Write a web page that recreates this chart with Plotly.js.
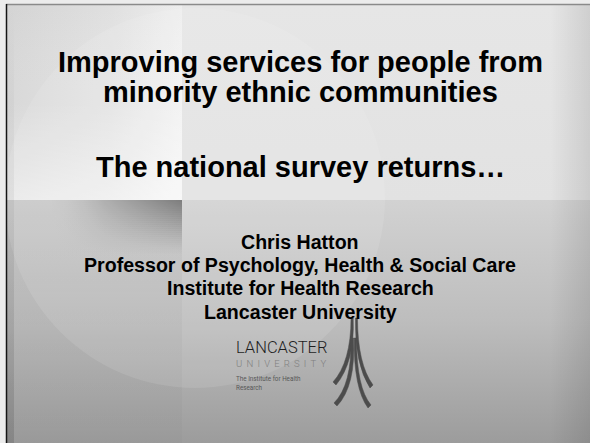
<!DOCTYPE html>
<html>
<head>
<meta charset="utf-8">
<script src="https://cdn.plot.ly/plotly-3.0.1.min.js"></script>
<style>
  html, body { margin: 0; padding: 0; background: #ececec; }
  #slide { width: 590px; height: 443px; }
</style>
</head>
<body>
<div id="slide"></div>
<script>
// ---- Slide content (text) ----
const titleLines = ["Improving services for people from", "minority ethnic communities", "The national survey returns…"];
const authorLines = ["Chris Hatton", "Professor of Psychology, Health & Social Care", "Institute for Health Research", "Lancaster University"];
const logoWordmark = ["LANCASTER", "UNIVERSITY"];
const logoTagline = ["The Institute for Health", "Research"];

// ---- layout helpers (positions / styles only) ----
const W = 590, H = 443;
function rect(x0, x1, y0, y1, grad, opacity) {
  return {
    type: 'scatter', mode: 'none', fill: 'toself',
    x: [x0, x1, x1, x0, x0], y: [y0, y0, y1, y1, y0],
    fillgradient: grad, hoverinfo: 'skip', showlegend: false,
    opacity: opacity === undefined ? 1 : opacity
  };
}
const traces = [];
// upper slide area
traces.push(rect(6, W, 5, 200, {type: 'vertical', start: 5, stop: 200,
  colorscale: [[0, '#e6e6e6'], [1, '#e2e2e2']]}));
// lower slide area
traces.push(rect(6, W, 200, H, {type: 'vertical', start: 200, stop: H,
  colorscale: [[0, '#d2d2d2'], [0.5, '#bdbdbd'], [1, '#9c9c9c']]}));
// left panel (upper)
traces.push(rect(7, 182, 5, 200, {type: 'horizontal', start: 7, stop: 182,
  colorscale: [[0, '#d8d8d8'], [0.6, '#e4e4e4'], [1, '#f2f2f2']]}));
traces.push(rect(7, 182, 5, 200, {type: 'vertical', start: 5, stop: 200,
  colorscale: [[0, 'rgba(0,0,0,0.02)'], [0.5, 'rgba(255,255,255,0)'], [1, 'rgba(255,255,255,0.45)']]}));
// lower left darker zone
traces.push(rect(7, 182, 200, H, {type: 'vertical', start: 200, stop: H,
  colorscale: [[0, 'rgba(0,0,0,0.05)'], [1, 'rgba(0,0,0,0.02)']]}));
// dark box fading downward (fine steps for a smooth fade)
const fadeSteps = 27;
for (let i = 0; i < fadeSteps; i++) {
  const y0 = 200 + i * 2, y1 = y0 + 2.2;
  const op = Math.pow(Math.max(0, 1 - i / fadeSteps), 1.2);
  traces.push(rect(52, 182, y0, y1, {type: 'horizontal', start: 52, stop: 182,
    colorscale: [[0, 'rgba(196,196,196,0.2)'], [0.4, '#a8a8a8'], [1, '#707070']]}, op));
}
// left thin strip
traces.push(rect(7, 14, 5, H, {type: 'vertical', start: 5, stop: H,
  colorscale: [[0, 'rgba(0,0,0,0)'], [1, 'rgba(0,0,0,0.13)']]}));
// right vignette
traces.push(rect(550, W, 5, H, {type: 'horizontal', start: 550, stop: W,
  colorscale: [[0, 'rgba(0,0,0,0)'], [1, 'rgba(0,0,0,0.10)']]}));

const shapes = [
  // large soft circle
  {type: 'circle', xref: 'x', yref: 'y', x0: 5, x1: 385, y0: 8, y1: 388,
   fillcolor: 'rgba(255,255,255,0.10)', line: {width: 0}, layer: 'above'},
  // frame
  {type: 'line', xref: 'x', yref: 'y', x0: 6, x1: W, y0: 4.5, y1: 4.5,
   line: {color: '#8a8a8a', width: 1.5}, layer: 'above'},
  {type: 'line', xref: 'x', yref: 'y', x0: 6.5, x1: 6.5, y0: 4, y1: H,
   line: {color: '#151515', width: 1.5}, layer: 'above'},
  // logo strokes
  {type: 'path', xref: 'x', yref: 'y', layer: 'above', line: {width: 0.5, color: '#4c4c4c'}, fillcolor: '#4c4c4c',
   path: 'M 351 318 Q 351 362 333 382 L 336 385 Q 355 362 353.2 318 Z'},
  {type: 'path', xref: 'x', yref: 'y', layer: 'above', line: {width: 0.5, color: '#4c4c4c'}, fillcolor: '#4c4c4c',
   path: 'M 351 338 Q 352 385 334 403 L 337 406 Q 356 386 353.5 338 Z'},
  {type: 'path', xref: 'x', yref: 'y', layer: 'above', line: {width: 0.5, color: '#4c4c4c'}, fillcolor: '#4c4c4c',
   path: 'M 357.5 318 Q 357.5 364 373 385 L 370 388 Q 354.5 364 355.5 318 Z'},
  {type: 'path', xref: 'x', yref: 'y', layer: 'above', line: {width: 0.5, color: '#4c4c4c'}, fillcolor: '#4c4c4c',
   path: 'M 356.5 338 Q 356.5 388 371 405 L 368 408 Q 353.5 388 354.2 338 Z'}
];

const annotations = [];
const titleFont = {family: 'Liberation Sans, Arial, sans-serif', size: 29, color: '#000000', weight: 'bold'};
const titleBaselines = [72, 102.5, 177];
titleLines.forEach((t, i) => {
  annotations.push({text: '<b>' + t + '</b>', x: 300, y: titleBaselines[i] - 0.3465 * titleFont.size,
    xref: 'x', yref: 'y', xanchor: 'center', yanchor: 'middle', showarrow: false,
    font: titleFont, borderpad: 0});
});
const authorFont = {family: 'Liberation Sans, Arial, sans-serif', size: 19.6, color: '#000000', weight: 'bold'};
const authorBaselines = [248.5, 272, 295.2, 318.5];
authorLines.forEach((t, i) => {
  annotations.push({text: '<b>' + t + '</b>', x: 300, y: authorBaselines[i] - 0.3465 * authorFont.size,
    xref: 'x', yref: 'y', xanchor: 'center', yanchor: 'middle', showarrow: false,
    font: authorFont, borderpad: 0});
});
annotations.push({text: logoWordmark[0], x: 234.5, y: 347, xref: 'x', yref: 'y', xanchor: 'left', yanchor: 'middle',
  showarrow: false, borderpad: 0, font: {family: 'Roboto, Lato, sans-serif', size: 16.5, color: '#1e1e1e', weight: 300}});
annotations.push({text: '<span style="letter-spacing:4.2px">' + logoWordmark[1] + '</span>', x: 235, y: 363, xref: 'x', yref: 'y',
  xanchor: 'left', yanchor: 'middle', showarrow: false, borderpad: 0,
  font: {family: 'Roboto, Lato, sans-serif', size: 9.5, color: '#808080', weight: 300}});
annotations.push({text: logoTagline[0], x: 235, y: 378.5, xref: 'x', yref: 'y', xanchor: 'left', yanchor: 'middle',
  showarrow: false, borderpad: 0, font: {family: 'Roboto, sans-serif', size: 6.3, color: '#585858'}});
annotations.push({text: logoTagline[1], x: 235, y: 387.5, xref: 'x', yref: 'y', xanchor: 'left', yanchor: 'middle',
  showarrow: false, borderpad: 0, font: {family: 'Roboto, sans-serif', size: 6.3, color: '#585858'}});

const layout = {
  width: W, height: H,
  margin: {l: 0, r: 0, t: 0, b: 0, pad: 0},
  paper_bgcolor: '#ececec', plot_bgcolor: 'rgba(0,0,0,0)',
  xaxis: {range: [0, W], visible: false, fixedrange: true},
  yaxis: {range: [H, 0], visible: false, fixedrange: true},
  showlegend: false, hovermode: false,
  shapes: shapes, annotations: annotations
};
Plotly.newPlot('slide', traces, layout, {staticPlot: true, displayModeBar: false});
</script>
</body>
</html>
